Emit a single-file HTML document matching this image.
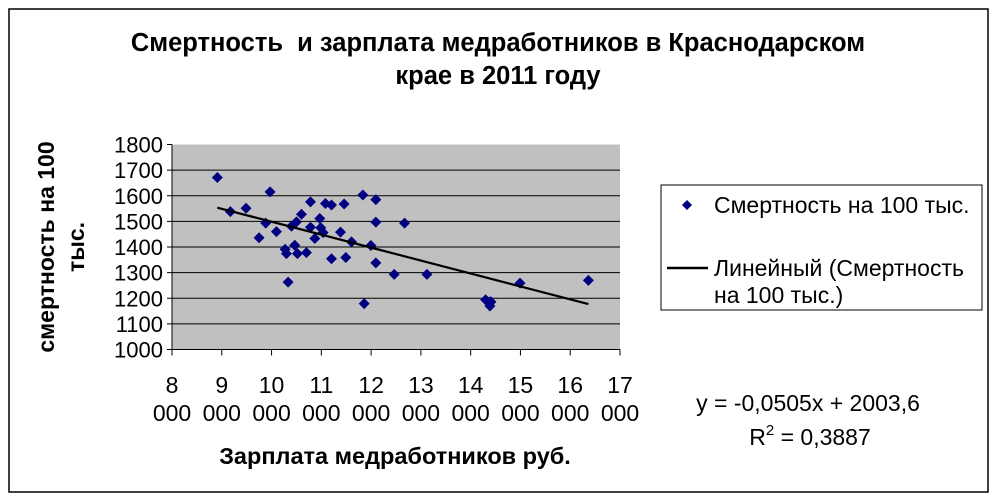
<!DOCTYPE html>
<html><head><meta charset="utf-8"><style>
body{margin:0;background:#fff;}
svg{display:block;font-family:"Liberation Sans",sans-serif;}
text{white-space:pre;}
</style></head><body>
<svg id="chart" width="998" height="501">
<rect x="9" y="9" width="979" height="483" fill="#fff" stroke="#000" stroke-width="1.5"/>
<text x="498" y="51" text-anchor="middle" font-size="25.5" font-weight="bold">Смертность  и зарплата медработников в Краснодарском</text>
<text x="498" y="84" text-anchor="middle" font-size="25.5" font-weight="bold">крае в 2011 году</text>
<text transform="translate(62,247) rotate(-90)" text-anchor="middle" font-size="23" font-weight="bold"><tspan x="0" dy="-8">смертность на 100</tspan><tspan x="0" dy="30">тыс.</tspan></text>
<text x="395" y="464" text-anchor="middle" font-size="23.5" font-weight="bold">Зарплата медработников руб.</text>
<g id="plot"></g>
<g>
<rect x="661" y="185" width="321" height="125" fill="#fff" stroke="#000" stroke-width="1"/>
<path d="M687 200 L692 205 L687 210 L682 205 Z" fill="#000080"/>
<text x="714" y="213" font-size="23">Смертность на 100 тыс.</text>
<line x1="667" y1="268" x2="708" y2="268" stroke="#000" stroke-width="2.5"/>
<text x="714" y="276" font-size="23">Линейный (Смертность</text>
<text x="714" y="303" font-size="23">на 100 тыс.)</text>
</g>
<text x="808" y="411" text-anchor="middle" font-size="23">y = -0,0505x + 2003,6</text>
<text x="810" y="445" text-anchor="middle" font-size="23">R<tspan font-size="15" dy="-10">2</tspan><tspan dy="10"> = 0,3887</tspan></text>
</svg>
<script>
const xVals=[8911,9173,9488,9749,9883,9970,10098,10272,10299,10332,10400,10466,10500,10520,10601,10701,10782,10782,10869,10969,10989,11036,11083,11204,11204,11385,11458,11492,11606,11834,11861,11995,12095,12095,12095,12464,12672,13121,14300,14387,14387,14408,14991,16365];
const yVals=[1671,1538,1551,1436,1493,1615,1460,1391,1374,1263,1481,1407,1498,1374,1528,1378,1576,1477,1433,1511,1475,1456,1570,1564,1354,1458,1568,1359,1420,1603,1179,1406,1585,1497,1338,1293,1493,1293,1194,1186,1170,1186,1259,1270];
const yTicks=[1000,1100,1200,1300,1400,1500,1600,1700,1800];
const xTicks=[8000,9000,10000,11000,12000,13000,14000,15000,16000,17000];
const slope=-0.0505, intercept=2003.6;
const L=172,R=620,T=144.5,B=349.5;
const sx=v=>L+(v-8000)/9000*(R-L);
const sy=v=>B-(v-1000)/800*(B-T);
const NS="http://www.w3.org/2000/svg";
const g=document.getElementById('plot');
function mk(t,a){const e=document.createElementNS(NS,t);for(const k in a)e.setAttribute(k,a[k]);g.appendChild(e);return e;}
let e=mk('rect',{x:L,y:T,width:R-L,height:B-T,fill:'#c0c0c0'});


yTicks.forEach(v=>{
 if(v>1000&&v<1800){const l=mk('line',{x1:L,x2:R,y1:sy(v),y2:sy(v),stroke:'#000','stroke-width':1});
 
 }
 const t=mk('line',{x1:L-5,x2:L,y1:sy(v),y2:sy(v),stroke:'#000'});
 
 
 const tx=mk('text',{x:L-9,y:sy(v)+8,'text-anchor':'end','font-size':22});
 tx.textContent=v;
 
 
});
xTicks.forEach(v=>{
 const t=mk('line',{x1:sx(v),x2:sx(v),y1:B,y2:B+6,stroke:'#000'});
 
 
 const tx=mk('text',{x:sx(v),y:393,'text-anchor':'middle','font-size':23});
 tx.textContent=String(v/1000);
 
 
 const t2=mk('text',{x:sx(v),y:421,'text-anchor':'middle','font-size':23});
 t2.textContent='000';
 
 
});
let ax=mk('line',{x1:L,x2:L,y1:T,y2:B,stroke:'#000'});


ax=mk('line',{x1:L,x2:R,y1:B,y2:B,stroke:'#000'});


xVals.forEach((xv,i)=>{
 const cx=sx(xv),cy=sy(yVals[i]);
 const p=mk('path',{d:`M${cx} ${cy-5.5} L${cx+5.5} ${cy} L${cx} ${cy+5.5} L${cx-5.5} ${cy} Z`,fill:'#000080'});
 
 
});
const x0=Math.min(...xVals),x1=Math.max(...xVals);
const tl=mk('line',{x1:sx(x0),y1:sy(slope*x0+intercept),x2:sx(x1),y2:sy(slope*x1+intercept),stroke:'#000','stroke-width':2.2});


</script>
</body></html>
